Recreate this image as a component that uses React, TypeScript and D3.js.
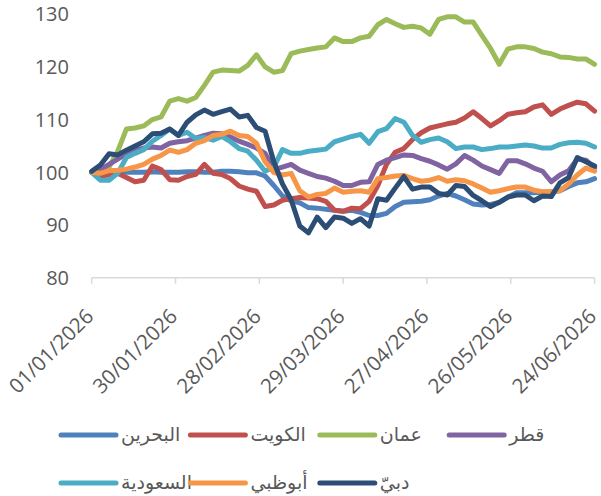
import React from "react";
import * as d3 from "d3";

const layout = {
    width: 601,
    height: 496,
    left: 91.7,
    right: 594.6,
    top: 14.2,
    bottom: 277.7
};

// one reading every 3 days from 01/01/2026
const startDate = "01/01/2026";
const stepDays = 3;

const yTicks = [80, 90, 100, 110, 120, 130];
const xTickLabels = [
    "01/01/2026",
    "30/01/2026",
    "28/02/2026",
    "29/03/2026",
    "27/04/2026",
    "26/05/2026",
    "24/06/2026"
];

const bahrain = [
    100, 99.8, 99.8, 100, 100, 100, 100, 100.1, 100, 100, 100, 100.1, 100.1, 100, 100,
    100.2, 100.2, 100.1, 99.9, 99.9, 99.3, 97.5, 95.5, 94.6, 94.2, 93.3, 93.2, 93, 92.8, 92.6,
    92.8, 92.4, 91.8, 91.8, 92.2, 93.5, 94.3, 94.4, 94.5, 94.8, 95.5, 96, 95.5, 94.8, 94,
    93.8, 93.9, 94.3, 95.3, 96.1, 96.1, 96.1, 96.2, 96.3, 96.5, 97.3, 98, 98.2, 98.8
];
const kuwait = [
    100, 99.3, 99.5, 99.8, 99, 98.2, 98.5, 101.2, 100.5, 98.6, 98.5, 99.2, 99.6, 101.5, 99.8,
    99.6, 98.8, 97.4, 96.8, 96.4, 93.5, 93.8, 94.7, 95, 95.2, 95.1, 95, 94.5, 92.8, 92.6,
    93.2, 93.1, 94.5, 97.5, 101.5, 103.8, 104.5, 106.2, 107.5, 108.4, 108.8, 109.2, 109.5, 110.3, 111.5,
    110.2, 108.8, 109.8, 111, 111.3, 111.5, 112.4, 112.8, 111, 112, 112.7, 113.3, 113, 111.6
];
const oman = [
    100, 100.3, 101, 104, 108.2, 108.4, 108.8, 110, 110.5, 113.5, 114, 113.5, 114.2, 116.5, 119,
    119.4, 119.3, 119.2, 120.3, 122.3, 120, 119, 119.3, 122.5, 123, 123.3, 123.6, 123.8, 125.5, 124.8,
    124.8, 125.5, 125.8, 128, 129, 128.2, 127.5, 127.7, 127.4, 126.2, 129, 129.5, 129.5, 128.5, 128.5,
    126, 123.5, 120.5, 123.4, 123.8, 123.8, 123.5, 122.8, 122.5, 121.9, 121.8, 121.5, 121.5, 120.5
];
const qatar = [
    100, 100.5, 101.5, 102.5, 103.5, 104.2, 104.6, 104.8, 104.6, 105.5, 105.8, 106, 106.5, 107, 107.4,
    107.3, 106.7, 105.9, 105.3, 104.6, 103.6, 100.5, 101, 101.5, 100.4, 99.8, 99.2, 98.9, 98.3, 97.5,
    97.5, 98.1, 98.2, 101.5, 102.3, 102.8, 103.3, 103.2, 102.6, 102.1, 101.4, 100.6, 101.6, 103.2, 102.3,
    101.2, 100.5, 99.8, 102.2, 102.2, 101.6, 100.8, 100.2, 98.2, 99.5, 100.3, 102.5, 102.3, 100.8
];
const saudi = [
    100, 98.5, 98.5, 99.8, 102.8, 103.6, 104.3, 105.9, 107, 108.2, 107, 107.6, 106.4, 106.6, 106.1,
    106.8, 105.8, 104.5, 104, 102.3, 100.2, 101, 104.3, 103.6, 103.6, 104, 104.2, 104.4, 105.8, 106.3,
    106.8, 107.2, 105.5, 107.7, 108.3, 110.2, 109.5, 107, 105.7, 106.2, 106.5, 105.8, 104.5, 104.8, 104.8,
    104.3, 104.5, 104.8, 104.8, 105, 105.2, 105, 104.6, 104.6, 105.3, 105.6, 105.7, 105.5, 104.8
];
const abuDhabi = [
    100, 99.8, 100.3, 100.4, 100.6, 101, 101.5, 102.5, 103.2, 104.2, 103.8, 104.3, 105.5, 106, 107,
    107.2, 107.8, 107, 106.8, 105.5, 102, 100, 99.5, 99.8, 96.5, 95.3, 95.8, 96, 97, 96.2,
    96.4, 96.5, 96.2, 98.8, 99, 99.3, 99.4, 98.8, 98.3, 98.5, 99, 98.3, 98.6, 98.4, 97.8,
    97, 96.2, 96.5, 96.9, 97.2, 97.2, 96.6, 96.3, 96.3, 96.5, 97.8, 99.5, 100.8, 100.2
];
const dubai = [
    100.2, 101.4, 103.5, 103.3, 104.2, 105, 105.8, 107.3, 107.4, 108.2, 107, 109.5, 110.9, 111.8, 111,
    111.5, 112, 110.5, 110.8, 108.5, 107.8, 102, 97.8, 94.8, 89.8, 88.5, 91.5, 89.5, 91.5, 91.3,
    90.3, 91.2, 89.8, 95, 94.7, 97, 99.2, 96.8, 97.2, 97.2, 96, 95.7, 97.5, 97.3, 95.6,
    94.6, 93.5, 94.3, 95.3, 95.7, 95.7, 94.6, 95.5, 95.4, 98, 99, 102.8, 102, 101.2
];

const seriesNames = ["البحرين", "الكويت", "عمان", "قطر", "السعودية", "أبوظبي", "دبيّ"];
const seriesValues = [bahrain, kuwait, oman, qatar, saudi, abuDhabi, dubai];
const seriesColours = ["#4F81BD", "#C0504D", "#9BBB59", "#8064A2", "#4BACC6", "#F79646", "#2C4D75"];
const legendRows = [[0, 1, 2, 3], [4, 5, 6]];

const parseDate = d3.utcParse("%d/%m/%Y");
const start = parseDate(startDate);
const dates = bahrain.map((_, i) => d3.utcDay.offset(start, i * stepDays));
const xTicks = xTickLabels.map(parseDate);

const xScale = d3
    .scaleUtc()
    .domain([xTicks[0], xTicks[xTicks.length - 1]])
    .range([layout.left, layout.right]);
const yScale = d3.scaleLinear().domain([80, 130]).range([layout.bottom, layout.top]);

const font = "'Open Sans', 'DejaVu Sans', sans-serif";
const textColour = "#595959";

export default function App() {
    const lineGenerator = d3
        .line()
        .x((d, i) => xScale(dates[i]))
        .y(d => yScale(d));

    const lines = seriesValues.map((values, key) => (
        <path
            key={key}
            d={lineGenerator(values)}
            fill="none"
            stroke={seriesColours[key]}
            strokeWidth={5}
            strokeLinejoin="round"
            strokeLinecap="round"
        />
    ));

    return (
        <svg
            width={layout.width}
            height={layout.height}
            style={{ position: "absolute", left: 0, top: 0, background: "#fff" }}
            fontFamily={font}
        >
            {yTicks.map(t => (
                <text
                    key={t}
                    x={69}
                    y={yScale(t)}
                    dy="0.36em"
                    textAnchor="end"
                    fontSize={20}
                    fill={textColour}
                >
                    {t}
                </text>
            ))}

            <line
                x1={layout.left}
                x2={layout.right}
                y1={layout.bottom}
                y2={layout.bottom}
                stroke="#d9d9d9"
                strokeWidth={1.5}
            />
            {xTicks.map((t, i) => (
                <g key={i} transform={`translate(${xScale(t)},${layout.bottom})`}>
                    <line y2={6} stroke="#d9d9d9" strokeWidth={1.5} />
                    <text
                        transform="translate(3,40) rotate(-45)"
                        textAnchor="end"
                        fontSize={20.5}
                        fill={textColour}
                    >
                        {xTickLabels[i]}
                    </text>
                </g>
            ))}

            {lines}

            {legendRows.map((row, r) =>
                row.map((s, c) => {
                    const x0 = 61 + c * 129.4;
                    const y = 435 + r * 48;
                    return (
                        <g key={s}>
                            <line
                                x1={x0}
                                x2={x0 + 55}
                                y1={y}
                                y2={y}
                                stroke={seriesColours[s]}
                                strokeWidth={5}
                                strokeLinecap="round"
                            />
                            <text
                                x={x0 + 60}
                                y={y}
                                dy="0.3em"
                                fontSize={19}
                                fill={textColour}
                            >
                                {seriesNames[s]}
                            </text>
                        </g>
                    );
                })
            )}
        </svg>
    );
}
